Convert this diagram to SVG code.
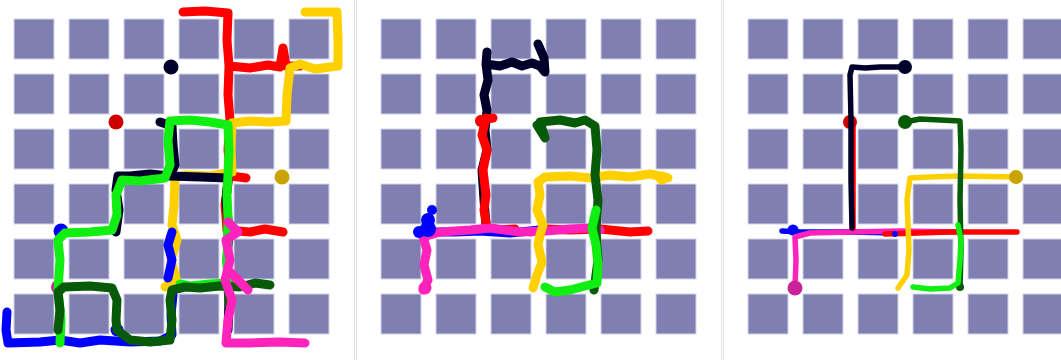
<svg xmlns="http://www.w3.org/2000/svg" width="1061" height="360" viewBox="0 0 1061 360">
<style>
.sq{fill:#7f7fb1;stroke:#d4d4ea;stroke-width:1}
.sep{stroke:#e2e2e2;stroke-width:1;fill:none}
.t{fill:none;stroke-linecap:round;stroke-linejoin:round}
.w8{stroke-width:9}
.w5{stroke-width:5.5}
.k{stroke:#00002a}.r{stroke:#ff0000}.y{stroke:#ffd000}.g{stroke:#11ee11}.dg{stroke:#075a07}.b{stroke:#0000ff}.m{stroke:#ff22bb}
</style>
<defs>
<g id="grid">
<rect class="sq" x="0" y="0" width="40" height="40"/><rect class="sq" x="55" y="0" width="40" height="40"/><rect class="sq" x="110" y="0" width="40" height="40"/><rect class="sq" x="165" y="0" width="40" height="40"/><rect class="sq" x="220" y="0" width="40" height="40"/><rect class="sq" x="275" y="0" width="40" height="40"/>
<rect class="sq" x="0" y="55" width="40" height="40"/><rect class="sq" x="55" y="55" width="40" height="40"/><rect class="sq" x="110" y="55" width="40" height="40"/><rect class="sq" x="165" y="55" width="40" height="40"/><rect class="sq" x="220" y="55" width="40" height="40"/><rect class="sq" x="275" y="55" width="40" height="40"/>
<rect class="sq" x="0" y="110" width="40" height="40"/><rect class="sq" x="55" y="110" width="40" height="40"/><rect class="sq" x="110" y="110" width="40" height="40"/><rect class="sq" x="165" y="110" width="40" height="40"/><rect class="sq" x="220" y="110" width="40" height="40"/><rect class="sq" x="275" y="110" width="40" height="40"/>
<rect class="sq" x="0" y="165" width="40" height="40"/><rect class="sq" x="55" y="165" width="40" height="40"/><rect class="sq" x="110" y="165" width="40" height="40"/><rect class="sq" x="165" y="165" width="40" height="40"/><rect class="sq" x="220" y="165" width="40" height="40"/><rect class="sq" x="275" y="165" width="40" height="40"/>
<rect class="sq" x="0" y="220" width="40" height="40"/><rect class="sq" x="55" y="220" width="40" height="40"/><rect class="sq" x="110" y="220" width="40" height="40"/><rect class="sq" x="165" y="220" width="40" height="40"/><rect class="sq" x="220" y="220" width="40" height="40"/><rect class="sq" x="275" y="220" width="40" height="40"/>
<rect class="sq" x="0" y="275" width="40" height="40"/><rect class="sq" x="55" y="275" width="40" height="40"/><rect class="sq" x="110" y="275" width="40" height="40"/><rect class="sq" x="165" y="275" width="40" height="40"/><rect class="sq" x="220" y="275" width="40" height="40"/><rect class="sq" x="275" y="275" width="40" height="40"/>
</g>
</defs>
<rect x="0" y="0" width="1061" height="360" fill="#ffffff"/>
<line class="sep" x1="354.5" y1="0" x2="354.5" y2="360"/>
<line class="sep" x1="356.5" y1="0" x2="356.5" y2="360"/>
<line class="sep" x1="721.5" y1="0" x2="721.5" y2="360"/>
<line class="sep" x1="723.5" y1="0" x2="723.5" y2="360"/>

<g id="panel1">
<use href="#grid" x="14" y="19"/>
<circle cx="58" cy="287" r="7" fill="#cc2299"/>
<path class="t w8 r" d="M183,12 L205,11 L228,13 L227,40 L229,66 L228,95 L230,120 L228,150 L231,176 L246,178 M229,176 L225,205 L227,230 L250,232 L265,229 L283,232 M229,66 L250,68 L268,65 L280,67 L283,48 L286,66 L300,66"/>
<path class="t w8 y" d="M305,12 L337,12 L338,40 L338,66 L315,69 L300,64 L290,68 L287,95 L286,121 L270,122 L250,121 L232,123 L231,150 L232,172 L210,176 L185,175 L175,178 L174,205 L172,225 L177,240 L171,260 L176,278 L165,287"/>
<path class="t w8 k" d="M160,122 L172,126 L173,145 L175,165 L170,176 L150,174 L130,176 L118,176 L116,190 L119,210 L116,232 M170,176 L200,177 L228,178 L226,200 L229,230 L227,260 L229,300 L228,330"/>
<path class="t w8 b" d="M7,312 L6,330 L8,343 L40,342 L60,340 L80,343 L100,340 L130,342 L160,341 L172,335 L171,315 L173,295 M172,232 L168,245 L172,260 L168,278"/>
<circle cx="61" cy="231" r="7.5" fill="#0000ff"/>
<circle cx="117" cy="330" r="6.5" fill="#0000ff"/>
<path class="t w8 g" d="M60,343 L61,320 L58,290 L60,260 L58,240 L65,233 L90,232 L112,230 L117,215 L116,195 L122,180 L140,181 L165,178 L170,165 L168,140 L170,121 L190,120 L210,122 L228,125 L229,150 L228,175 L227,195 L228,218 L227,260 L228,283 L210,284 L190,286 L180,284"/>
<path class="t w8 dg" d="M58,330 L60,310 L58,292 L64,287 L90,286 L112,288 L117,300 L116,320 L117,330 L130,340 L150,342 L170,340 L172,320 L170,300 L172,290 L185,287 L200,288 L220,286 L240,287 L255,283 L270,285 M228,287 L229,305"/>
<path class="t w8 m" d="M228,222 L238,232 L226,240 L230,260 L225,280 L232,300 L228,320 L226,343 L250,343 L280,342 L305,343 M230,272 L240,282 L248,290"/>
<circle cx="171" cy="67" r="7.5" fill="#00002a"/>
<circle cx="116" cy="122" r="7.5" fill="#cc0000"/>
<circle cx="282" cy="177" r="7.5" fill="#c9a300"/>
</g>

<g id="panel2">
<use href="#grid" x="381" y="19"/>
<circle cx="481" cy="121" r="6" fill="#cc0000"/>
<path class="t w8 k" d="M487,52 L486,64 L500,66 L512,62 L522,66 L532,63 L540,66 L545,72 L544,58 L538,44 M486,64 L488,80 L484,95 L487,110 L485,130 L487,150 L482,170 L484,200 L486,225"/>
<path class="t w8 r" d="M480,120 L493,118 M486,118 L482,135 L487,150 L483,170 L486,195 L484,210 L487,228 L500,230 L515,229 M530,232 L545,229 L570,230 L600,229 L630,232 L648,231"/>
<path class="t w8 b" d="M430,232 L455,232 L480,231 L510,233 L540,230"/>
<path class="t w8 m" d="M423,290 L428,280 L424,265 L427,250 L423,237 L440,232 L470,230 L490,228 L520,232 L545,231 L570,229 L590,228 L600,230"/>
<circle cx="425" cy="288" r="6.5" fill="#ff22bb"/>
<circle cx="428" cy="220" r="7" fill="#0000ff"/>
<circle cx="428" cy="229" r="8" fill="#0000ff"/>
<circle cx="419" cy="232" r="6" fill="#0000ff"/>
<circle cx="432" cy="210" r="5" fill="#0000ff"/>
<path class="t w8 y" d="M533,288 L537,275 L542,262 L538,245 L540,235 L543,225 L537,210 L540,195 L538,182 L545,177 L570,176 L590,178 L610,175 L630,177 L650,174 L668,178"/>
<circle cx="662" cy="178" r="6.5" fill="#ffd000"/>
<path class="t w8 dg" d="M537,125 L545,138 L540,122 L560,120 L575,123 L585,120 L595,126 L597,150 L595,175 L598,200 L596,230 L598,260 L594,290"/>
<path class="t w8 g" d="M545,287 L555,292 L570,290 L585,286 L597,283 L598,265 L596,245 L592,228 L596,210"/>
</g>

<g id="panel3">
<use href="#grid" x="748" y="19"/>
<path class="t w5 b" d="M782,231 L800,232 L850,232 L895,233"/>
<circle cx="793" cy="230" r="5.5" fill="#0000ff"/>
<path class="t w5 m" d="M795,288 L796,260 L795,237 L810,233 L850,232 L900,231 L960,232"/>
<path class="t w5 r" d="M853,122 L853,228 M885,234 L950,232 L1000,232 L1017,232"/>
<circle cx="895" cy="234" r="3" fill="#0000ff"/>
<circle cx="850" cy="122" r="7" fill="#cc0000"/>
<path class="t w5 y" d="M1016,177 L960,176 L930,177 L910,178 L907,200 L909,250 L907,275 L898,288"/>
<path class="t w5 dg" d="M905,122 L920,119 L940,120 L960,121 L961,150 L960,200 L961,250 L960,287"/>
<circle cx="960" cy="287" r="4" fill="#075a07"/>
<path class="t w5 g" d="M913,287 L930,289 L950,288 L958,283 L960,260 L961,240 L958,225"/>
<path class="t w5 k" d="M905,67 L880,67 L865,68 L852,67 L850,75 L851,120 L851,180 L852,228"/>
<circle cx="905" cy="67" r="7" fill="#00002a"/>
<circle cx="905" cy="122" r="7" fill="#075a07"/>
<circle cx="1016" cy="177" r="7" fill="#c9a300"/>
<circle cx="795" cy="288" r="7.5" fill="#cc2299"/>
</g>
</svg>
